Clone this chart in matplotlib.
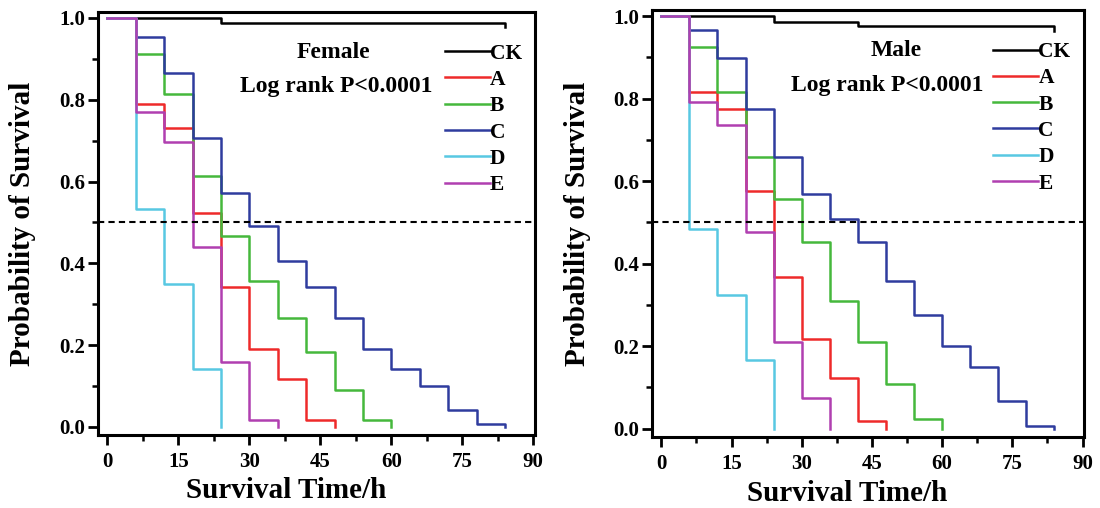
import matplotlib
matplotlib.use('Agg')
import matplotlib.pyplot as plt
from matplotlib.ticker import MultipleLocator

plt.rcParams['font.family'] = ['Liberation Serif', 'DejaVu Serif']
plt.rcParams['font.weight'] = 'bold'

groups = ['CK', 'A', 'B', 'C', 'D', 'E']
colors = ['black', '#ee2a2a', '#45b83c', '#2f3c9e', '#58c8e2', '#b03fb0']

# female survival curves (time in h, survival probability)
female_ck_t = [0, 24, 84, 84]
female_ck_s = [1.0, 0.988, 0.988, 0.978]
female_a_t = [0, 6, 12, 18, 24, 30, 36, 42, 48]
female_a_s = [1.0, 0.790, 0.732, 0.522, 0.341, 0.191, 0.117, 0.017, 0.0]
female_b_t = [0, 6, 12, 18, 24, 30, 36, 42, 48, 54, 60]
female_b_s = [1.0, 0.913, 0.813, 0.614, 0.467, 0.357, 0.267, 0.183, 0.090, 0.017, 0.0]
female_c_t = [0, 6, 12, 18, 24, 30, 36, 42, 48, 54, 60, 66, 72, 78, 84]
female_c_s = [1.0, 0.953, 0.865, 0.707, 0.573, 0.491, 0.406, 0.341, 0.267, 0.191,
              0.141, 0.099, 0.042, 0.007, 0.0]
female_d_t = [0, 6, 12, 18, 24]
female_d_s = [1.0, 0.533, 0.350, 0.141, 0.0]
female_e_t = [0, 6, 12, 18, 24, 30, 36]
female_e_s = [1.0, 0.771, 0.696, 0.439, 0.158, 0.017, 0.0]

# male survival curves
male_ck_t = [0, 24, 42, 84, 84]
male_ck_s = [1.0, 0.987, 0.975, 0.975, 0.965]
male_a_t = [0, 6, 12, 18, 24, 30, 36, 42, 48]
male_a_s = [1.0, 0.817, 0.774, 0.577, 0.367, 0.217, 0.124, 0.019, 0.0]
male_b_t = [0, 6, 12, 18, 24, 30, 36, 42, 48, 54, 60]
male_b_s = [1.0, 0.926, 0.817, 0.659, 0.557, 0.452, 0.310, 0.211, 0.109, 0.024, 0.0]
male_c_t = [0, 6, 12, 18, 24, 30, 36, 42, 48, 54, 60, 66, 72, 78, 84]
male_c_s = [1.0, 0.967, 0.899, 0.776, 0.659, 0.568, 0.509, 0.452, 0.359, 0.276,
            0.200, 0.150, 0.068, 0.007, 0.0]
male_d_t = [0, 6, 12, 18, 24]
male_d_s = [1.0, 0.484, 0.324, 0.166, 0.0]
male_e_t = [0, 6, 12, 18, 24, 30, 36]
male_e_s = [1.0, 0.791, 0.735, 0.477, 0.209, 0.075, 0.0]

female = [(female_ck_t, female_ck_s), (female_a_t, female_a_s), (female_b_t, female_b_s),
          (female_c_t, female_c_s), (female_d_t, female_d_s), (female_e_t, female_e_s)]
male = [(male_ck_t, male_ck_s), (male_a_t, male_a_s), (male_b_t, male_b_s),
        (male_c_t, male_c_s), (male_d_t, male_d_s), (male_e_t, male_e_s)]

fig = plt.figure(figsize=(11, 5.08), dpi=100)
ax1 = fig.add_axes([0.0891, 0.1437, 0.397, 0.833])
ax2 = fig.add_axes([0.5927, 0.1398, 0.3927, 0.8406])


def draw_panel(ax, curves, title, title_x, legend_x, ylab_x, xlab_x):
  for (t, s), name, c in zip(curves, groups, colors):
    ax.step(t, s, where='post', color=c, lw=1.8, label=name)
  ax.axhline(0.5, color='black', lw=1.5, linestyle=(0, (3, 2)), zorder=5)
  ax.set_xlim(-2, 90.3)
  ax.set_ylim(-0.02, 1.015)
  ax.xaxis.set_major_locator(MultipleLocator(15))
  ax.xaxis.set_minor_locator(MultipleLocator(7.5))
  ax.yaxis.set_major_locator(MultipleLocator(0.2))
  ax.yaxis.set_minor_locator(MultipleLocator(0.1))
  ax.yaxis.set_major_formatter(lambda v, p: '%.1f' % v)
  ax.tick_params(which='major', direction='out', length=7, width=2, labelsize=15)
  ax.tick_params(which='minor', direction='out', length=4.5, width=1.8)
  ax.tick_params(axis='y', which='major', pad=2)
  ax.tick_params(axis='x', which='major', pad=5)
  for sp in ax.spines.values():
    sp.set_linewidth(2.2)
  ax.set_xlabel('Survival Time/h', fontsize=21, fontweight='bold')
  ax.set_ylabel('Probability of Survival', fontsize=21, fontweight='bold')
  ax.yaxis.set_label_coords(ylab_x, 0.5)
  ax.xaxis.set_label_coords(xlab_x, -0.10)
  ax.xaxis.label.set_va('top')
  ax.text(title_x, 0.905, title, transform=ax.transAxes, ha='center', va='center',
          fontsize=17, fontweight='bold')
  ax.text(0.545, 0.823, 'Log rank P<0.0001', transform=ax.transAxes, ha='center',
          va='center', fontsize=17, fontweight='bold')
  ax.legend(loc='upper left', bbox_to_anchor=(legend_x, 0.925), frameon=False,
            fontsize=15.5, handlelength=2.1, handletextpad=0.0, labelspacing=0.29,
            borderpad=0, borderaxespad=0)


draw_panel(ax1, female, 'Female', 0.538, 0.794, -0.142, 0.432)
draw_panel(ax2, male, 'Male', 0.566, 0.79, -0.141, 0.4525)

fig.savefig('out.png', dpi=100)
